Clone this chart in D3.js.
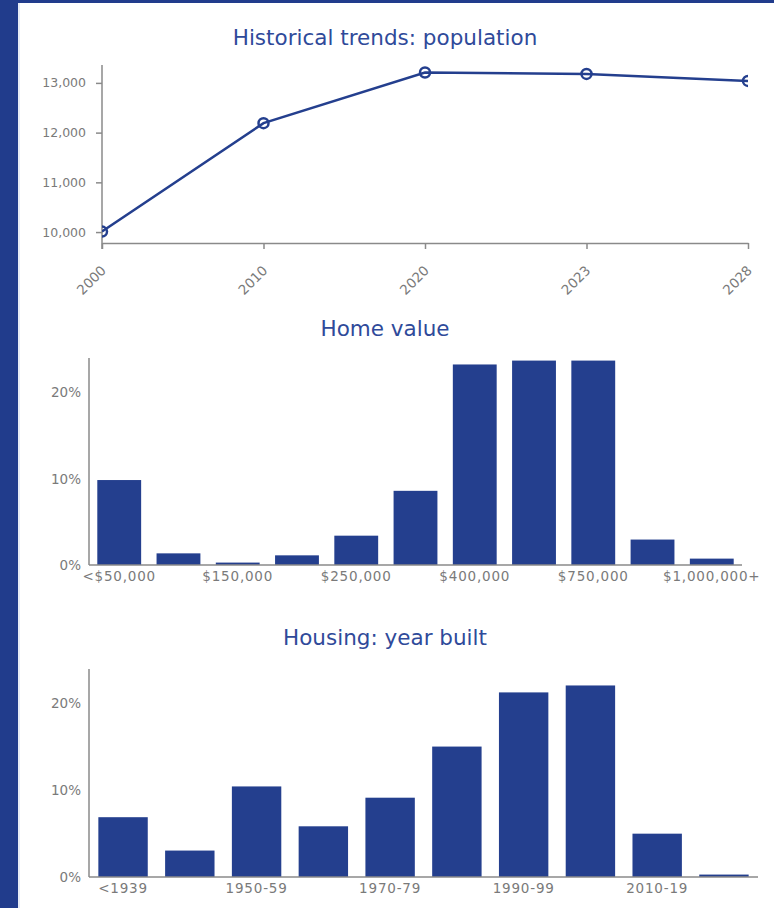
<!DOCTYPE html>
<html>
<head>
<meta charset="utf-8">
<script src="https://cdn.jsdelivr.net/npm/d3@7"></script>
<style>
  body { margin: 0; background: #fff; }
  svg { display: block; font-family: "DejaVu Sans", Verdana, sans-serif; }
  .axis path, .axis line { stroke: #8a8a8a; stroke-width: 1.5; }
  .axis text { fill: #7a7a7a; font-size: 13.5px; font-family: "DejaVu Sans", Verdana, sans-serif; }
  .pop-y text { font-size: 12.5px; }
  .bar-x text { letter-spacing: 0.8px; }
  .chart-title { fill: #2f4a9a; font-size: 21.5px; text-anchor: middle; }
</style>
</head>
<body>
<div id="chart"></div>
<script>
// Population trend
const years = ["2000", "2010", "2020", "2023", "2028"];
const population = [10010, 12190, 13210, 13180, 13040];
const popTicks = [10000, 11000, 12000, 13000];

// Home value distribution (% of homes)
const homeValueCats = ["<$50,000", "$100,000", "$150,000", "$200,000", "$250,000", "$300,000",
  "$400,000", "$500,000", "$750,000", "$1,000,000", "$1,000,000+"];
const homeValueShares = [9.85, 1.35, 0.28, 1.12, 3.4, 8.6, 23.25, 23.7, 23.7, 2.95, 0.74];
const homeValueLabels = ["<$50,000", "$150,000", "$250,000", "$400,000", "$750,000", "$1,000,000+"];

// Year built distribution (% of housing units)
const yearBuiltCats = ["<1939", "1940-49", "1950-59", "1960-69", "1970-79", "1980-89",
  "1990-99", "2000-09", "2010-19", "2020+"];
const yearBuiltShares = [6.9, 3.05, 10.45, 5.85, 9.15, 15.05, 21.3, 22.1, 5.0, 0.28];
const yearBuiltLabels = ["<1939", "1950-59", "1970-79", "1990-99", "2010-19"];

const pctTicks = [0, 10, 20];

const W = 774, H = 908;
const navy = "#243f8e";

const svg = d3.select("#chart").append("svg").attr("width", W).attr("height", H);

// page frame: dark strip on the left and top
svg.append("rect").attr("x", 0).attr("y", 0).attr("width", 18).attr("height", H).attr("fill", "#213c8c");
svg.append("rect").attr("x", 0).attr("y", 0).attr("width", W).attr("height", 3).attr("fill", "#213c8c");
svg.append("line").attr("x1", 19).attr("x2", 19).attr("y1", 3).attr("y2", H)
  .attr("stroke", "#dfe6f3").attr("stroke-width", 1.5);

// ---- Line chart ----
const lx = d3.scalePoint().domain(years).range([102, 748]);
const ly = d3.scaleLinear().domain([9780, 13360]).range([243, 65]);

svg.append("text").attr("class", "chart-title").attr("x", 385).attr("y", 45)
  .text("Historical trends: population");

svg.append("defs").append("clipPath").attr("id", "lineClip")
  .append("rect").attr("x", 102).attr("y", 60).attr("width", 646).attr("height", 183);

const lyAxis = svg.append("g").attr("class", "axis pop-y")
  .attr("transform", "translate(102,0)")
  .call(d3.axisLeft(ly).tickValues(popTicks).tickSize(6).tickPadding(10).tickFormat(d3.format(",")));
lyAxis.select(".domain").attr("d", "M0,65V249");

const lxAxis = svg.append("g").attr("class", "axis")
  .attr("transform", "translate(0,243)")
  .call(d3.axisBottom(lx).tickSize(6).tickSizeOuter(0));
lxAxis.selectAll("text")
  .attr("text-anchor", "end")
  .attr("transform", "translate(1,25) rotate(-45)")
  .attr("dy", "0.35em").attr("y", 0);

const plot = svg.append("g").attr("clip-path", "url(#lineClip)");
const pts = years.map((y, i) => [lx(y), ly(population[i])]);
plot.append("path")
  .attr("d", d3.line()(pts))
  .attr("fill", "none").attr("stroke", navy).attr("stroke-width", 2.5);
plot.selectAll("circle").data(pts).join("circle")
  .attr("cx", (d) => d[0]).attr("cy", (d) => d[1]).attr("r", 5)
  .attr("fill", "none").attr("stroke", navy).attr("stroke-width", 2.5);

// ---- Bar charts ----
function barChart(cfg) {
  const x = d3.scaleBand().domain(cfg.cats).range([cfg.x0, cfg.x1])
    .paddingInner(0.26).paddingOuter(0.14);
  const y = d3.scaleLinear().domain([0, 24]).range([cfg.base, cfg.top]);

  svg.append("text").attr("class", "chart-title").attr("x", 385).attr("y", cfg.titleY).text(cfg.title);

  svg.append("g").selectAll("rect").data(cfg.values).join("rect")
    .attr("x", (d, i) => x(cfg.cats[i]))
    .attr("width", x.bandwidth())
    .attr("y", (d) => y(d))
    .attr("height", (d) => cfg.base - y(d))
    .attr("fill", navy);

  const yAxis = svg.append("g").attr("class", "axis")
    .attr("transform", `translate(${cfg.x0},0)`)
    .call(d3.axisLeft(y).tickValues(pctTicks).tickSize(0).tickPadding(8).tickFormat((d) => d + "%"));
  yAxis.select(".domain").attr("d", `M0,${cfg.top}V${cfg.base}`);

  const xAxis = svg.append("g").attr("class", "axis bar-x")
    .attr("transform", `translate(0,${cfg.base})`)
    .call(d3.axisBottom(x).tickValues(cfg.labels).tickSize(0).tickPadding(6));
  xAxis.select(".domain").attr("d", `M${cfg.x0},0H${cfg.x1}`);
}

barChart({
  title: "Home value", titleY: 336,
  cats: homeValueCats, values: homeValueShares, labels: homeValueLabels,
  x0: 89, x1: 742, top: 358, base: 565,
});

barChart({
  title: "Housing: year built", titleY: 645,
  cats: yearBuiltCats, values: yearBuiltShares, labels: yearBuiltLabels,
  x0: 89, x1: 758, top: 669, base: 877,
});
</script>
</body>
</html>
